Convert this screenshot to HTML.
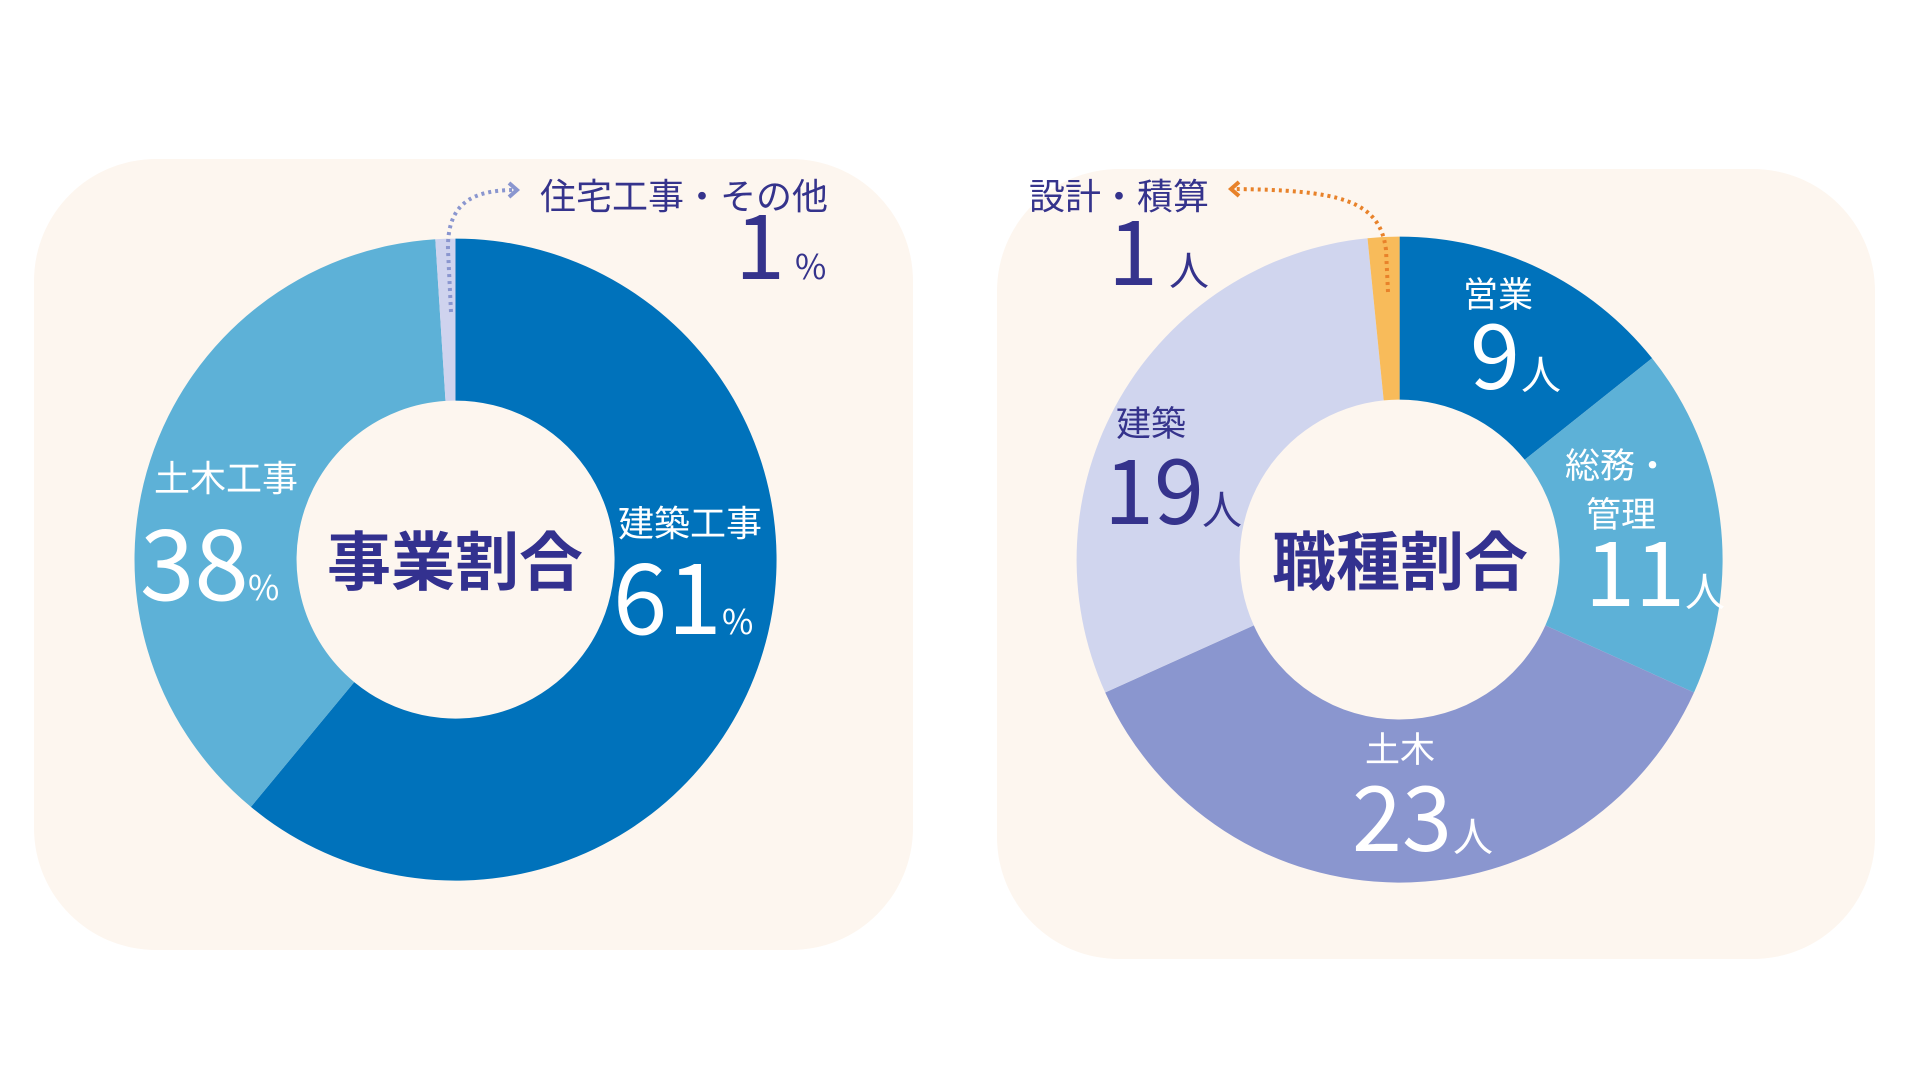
<!DOCTYPE html>
<html><head><meta charset="utf-8"><style>
html,body{margin:0;padding:0;background:#fff;}
svg{display:block;}
text{font-family:"Noto Sans CJK JP","Liberation Sans",sans-serif;}
text.n{font-weight:400;}
</style></head><body>
<svg width="1920" height="1080" viewBox="0 0 1920 1080" xmlns="http://www.w3.org/2000/svg">
<rect x="34" y="159" width="879" height="791" rx="122" fill="#fdf6ef"/>
<rect x="997" y="169" width="878" height="790" rx="122" fill="#fdf6ef"/>

<path d="M455.5,238.6 A321,321 0 1 1 250.9,806.9 L354.2,682.1 A159,159 0 1 0 455.5,400.6 Z" fill="#0072bb"/>
<path d="M250.9,806.9 A321,321 0 0 1 435.3,239.2 L445.5,400.9 A159,159 0 0 0 354.2,682.1 Z" fill="#5db1d7"/>
<path d="M435.3,239.2 A321,321 0 0 1 455.5,238.6 L455.5,400.6 A159,159 0 0 0 445.5,400.9 Z" fill="#cfd3ee"/>

<path d="M1399.6,236.6 A323,323 0 0 1 1652.1,358.2 L1524.7,459.8 A160,160 0 0 0 1399.6,399.6 Z" fill="#0072bb"/>
<path d="M1652.1,358.2 A323,323 0 0 1 1694.0,692.5 L1545.4,625.4 A160,160 0 0 0 1524.7,459.8 Z" fill="#5db1d7"/>
<path d="M1694.0,692.5 A323,323 0 0 1 1105.2,692.5 L1253.8,625.4 A160,160 0 0 0 1545.4,625.4 Z" fill="#8a96cf"/>
<path d="M1105.2,692.5 A323,323 0 0 1 1367.5,238.2 L1383.7,400.4 A160,160 0 0 0 1253.8,625.4 Z" fill="#d0d5ee"/>
<path d="M1367.5,238.2 A323,323 0 0 1 1399.6,236.6 L1399.6,399.6 A160,160 0 0 0 1383.7,400.4 Z" fill="#f8bb5a"/>

<path d="M451,312 L448,250 C447,205 470,190 515,190" fill="none" stroke="#8a96cf" stroke-width="4" stroke-dasharray="3 4"/>
<polyline points="509,183 517,190 509,197" fill="none" stroke="#8a96cf" stroke-width="4"/>
<path d="M1388,292 L1386,250 C1380,200 1340,190 1232,189" fill="none" stroke="#e8822a" stroke-width="4" stroke-dasharray="3 4"/>
<polyline points="1239,182 1231,189 1239,196" fill="none" stroke="#e8822a" stroke-width="4"/>

<text x="540" y="209" font-size="36" fill="#35338c">住宅工事・その他</text>
<text class="n" x="785" y="279" font-size="90" fill="#35338c" text-anchor="end">1</text>
<text x="795" y="279" font-size="34" fill="#35338c">%</text>

<text x="154" y="491" font-size="36" fill="#fff">土木工事</text>
<text class="n" x="140" y="600" font-size="98" fill="#fff">38</text>
<text x="248" y="600" font-size="34" fill="#fff">%</text>

<text x="618" y="536" font-size="36" fill="#fff">建築工事</text>
<text class="n" x="613" y="634" font-size="98" fill="#fff">61</text>
<text x="722" y="634" font-size="34" fill="#fff">%</text>

<text x="455" y="585" font-size="64" font-weight="bold" fill="#33318f" text-anchor="middle">事業割合</text>

<text x="1029" y="209" font-size="36" fill="#35338c">設計・積算</text>
<text class="n" x="1158" y="285" font-size="90" fill="#35338c" text-anchor="end">1</text>
<text x="1169" y="285" font-size="40" fill="#35338c">人</text>

<text x="1463" y="307" font-size="35" fill="#fff">営業</text>
<text class="n" x="1470" y="389" font-size="90" fill="#fff">9</text>
<text x="1521" y="389" font-size="40" fill="#fff">人</text>

<text x="1116" y="436" font-size="35" fill="#35338c">建築</text>
<text class="n" x="1104" y="524" font-size="90" fill="#35338c">19</text>
<text x="1202" y="524" font-size="40" fill="#35338c">人</text>

<text x="1565" y="478" font-size="35" fill="#fff">総務・</text>
<text x="1586" y="527" font-size="35" fill="#fff">管理</text>
<text class="n" x="1585" y="606" font-size="90" fill="#fff">11</text>
<text x="1685" y="606" font-size="40" fill="#fff">人</text>

<text x="1365" y="762" font-size="35" fill="#fff">土木</text>
<text class="n" x="1352" y="851" font-size="90" fill="#fff">23</text>
<text x="1453" y="851" font-size="40" fill="#fff">人</text>

<text x="1400" y="585" font-size="64" font-weight="bold" fill="#33318f" text-anchor="middle">職種割合</text>
</svg>
</body></html>
